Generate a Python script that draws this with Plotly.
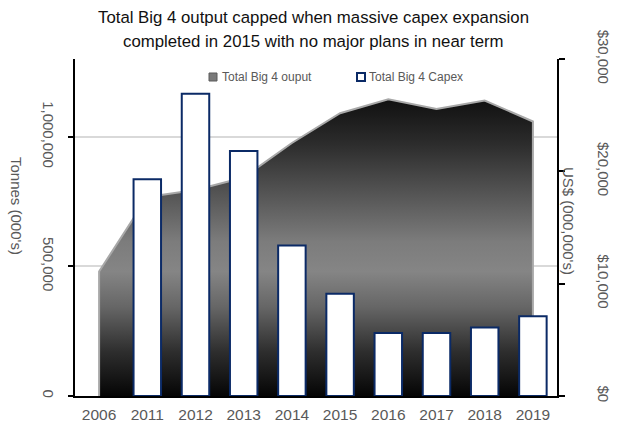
import plotly.graph_objects as go

years = ["2006", "2011", "2012", "2013", "2014", "2015", "2016", "2017", "2018", "2019"]
output_tonnes = [480000, 768000, 795000, 843000, 976000, 1091000, 1145000, 1107000, 1140000, 1059000]
capex_usd = [None, 19300, 26900, 21800, 13400, 9100, 5600, 5600, 6100, 7100]

left_ticks = [0, 500000, 1000000]
left_ticktext = ["0", "500,000", "1,000,000"]
right_ticks = [0, 10000, 20000, 30000]
right_ticktext = ["$0", "$10,000", "$20,000", "$30,000"]

title_lines = ["Total Big 4 output capped when massive capex expansion",
               "completed in 2015 with no major plans in near term"]

GREY = "#595959"
FONT = "Liberation Sans"
NAVY = "#0b2a66"

fig = go.Figure()

# area (closed polygon down to zero at both ends so the edge outline shows)
ax = [years[0]] + years + [years[-1]]
ay = [0] + output_tonnes + [0]
fig.add_trace(go.Scatter(
    x=ax, y=ay, mode="lines", fill="toself",
    line=dict(color="#a8a8a8", width=2),
    fillgradient=dict(type="vertical", colorscale=[
        [0.0, "#050505"], [0.15, "#2e2e2e"], [0.3, "#666666"], [0.42, "#858585"],
        [0.52, "#7c7c7c"], [0.65, "#5c5c5c"], [0.85, "#2c2c2c"], [1.0, "#101010"]]),
    name="Total Big 4 ouput", showlegend=False, hoverinfo="skip"))

fig.add_trace(go.Bar(
    x=years, y=capex_usd, yaxis="y2", width=0.57,
    marker=dict(color="white", line=dict(color=NAVY, width=2)),
    name="Total Big 4 Capex", showlegend=False))

fig.update_layout(
    width=617, height=429,
    margin=dict(l=75, r=60, t=59, b=33, autoexpand=False),
    paper_bgcolor="white", plot_bgcolor="white",
    font=dict(family=FONT, color=GREY, size=15),
    showlegend=False,
    xaxis=dict(type="category", range=[-0.5, 9.5], showline=True, linecolor="black", linewidth=2,
               ticks="", showgrid=False, tickfont=dict(size=15.5, color=GREY), automargin=False,
               ticklabelstandoff=3),
    yaxis=dict(range=[0, 1300000], tickvals=left_ticks, ticktext=left_ticktext,
               showline=True, linecolor="black", linewidth=2,
               ticks="outside", ticklen=5, tickwidth=2, tickcolor="black",
               showgrid=True, gridcolor="#d9d9d9", gridwidth=2, zeroline=False,
               tickangle=90, ticklabelstandoff=7, tickfont=dict(size=15, color=GREY),
               automargin=False),
    yaxis2=dict(range=[0, 30000], tickvals=right_ticks, ticktext=right_ticktext,
                overlaying="y", side="right",
                showline=True, linecolor="black", linewidth=2,
                ticks="outside", ticklen=6, tickwidth=2, tickcolor="black",
                showgrid=False, zeroline=False,
                tickangle=90, ticklabelstandoff=27, tickfont=dict(size=15, color=GREY),
                automargin=False),
)

def px_x(p):
    return (p - 75) / 482.0

def px_y(p):
    return (396 - p) / 337.0

def ann(text, x, y, size, color, angle=0, xanchor="center"):
    return dict(text=text, x=px_x(x), y=px_y(y), textangle=angle, showarrow=False,
                xref="paper", yref="paper", xanchor=xanchor, yanchor="middle",
                font=dict(size=size, color=color, family=FONT))

annotations = [
    ann(title_lines[0], 313, 18, 16.8, "#111111"),
    ann(title_lines[1], 313, 42, 16.8, "#111111"),
    ann("Tonnes (000's)", 17, 206, 15, GREY, angle=90),
    ann("US$ (000,000's)", 568, 221, 15, GREY, angle=90),
    ann("Total Big 4 ouput", 220, 77, 12, GREY, xanchor="left"),
    ann("Total Big 4 Capex", 367, 77, 12, GREY, xanchor="left"),
]
fig.update_layout(annotations=annotations)

fig.add_shape(type="rect", xref="paper", yref="paper",
              x0=px_x(209), x1=px_x(217), y0=px_y(81), y1=px_y(73),
              fillcolor="#7a7a7a", line=dict(color="#5a5a5a", width=1))
fig.add_shape(type="rect", xref="paper", yref="paper",
              x0=px_x(357), x1=px_x(365), y0=px_y(81), y1=px_y(73),
              fillcolor="white", line=dict(color=NAVY, width=2))

fig.write_html("out.html", config={"displayModeBar": False},
               post_script="document.body.style.margin='0';document.body.style.padding='0';")
